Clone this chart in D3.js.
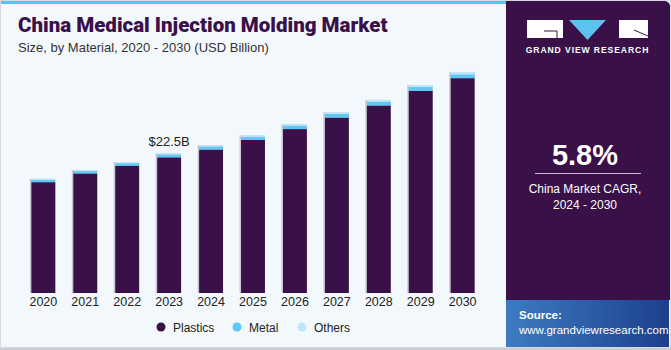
<!DOCTYPE html>
<html>
<head>
<meta charset="utf-8">
<script src="https://cdn.jsdelivr.net/npm/d3@7"></script>
<style>
  html, body { margin: 0; padding: 0; background: #fff; }
  svg { display: block; font-family: "Liberation Sans", Arial, sans-serif; }
</style>
</head>
<body>
<div id="chart"></div>
<script>
// valores (USD Bi)
const years = ['2020', '2021', '2022', '2023', '2024', '2025', '2026', '2027', '2028', '2029', '2030'];
const plastics = [17.85, 19.25, 20.5, 21.85, 23.1, 24.65, 26.4, 28.25, 30.2, 32.55, 34.6];
const metal = [0.35, 0.37, 0.4, 0.45, 0.48, 0.5, 0.55, 0.58, 0.6, 0.62, 0.6];
const others = [0.2, 0.18, 0.2, 0.2, 0.22, 0.25, 0.25, 0.27, 0.3, 0.33, 0.4];
const seriesNames = ['Plastics', 'Metal', 'Others'];
const seriesColors = ['#3a1048', '#5bc8f5', '#bde8fa'];
const highlight = { year: '2023', label: '$22.5B' };

const W = 671, H = 350;
const svg = d3.select('#chart').append('svg').attr('width', W).attr('height', H);

// fundo
svg.append('rect').attr('width', W).attr('height', H).attr('fill', '#f3f8fc');
svg.append('rect').attr('x', 0).attr('y', 0).attr('width', 506).attr('height', 4).attr('fill', '#5bc4ee');

// painel direito
svg.append('path')
  .attr('d', `M506,0 H661 Q671,0 671,10 V300 H506 Z`)
  .attr('fill', '#3a1048');

const grad = svg.append('defs').append('linearGradient').attr('id', 'src').attr('x1', 0).attr('x2', 1).attr('y1', 0).attr('y2', 0);
grad.append('stop').attr('offset', 0).attr('stop-color', '#3d7cc2');
grad.append('stop').attr('offset', 1).attr('stop-color', '#1d3f8c');
svg.append('rect').attr('x', 506).attr('y', 300).attr('width', 163).attr('height', 47).attr('fill', 'url(#src)');
svg.append('rect').attr('x', 0).attr('y', 347).attr('width', W).attr('height', 3).attr('fill', '#c9ccd2');
svg.append('rect').attr('x', 0.5).attr('y', 0.5).attr('width', W - 1).attr('height', 347).attr('fill', 'none').attr('stroke', '#d7dbe0');

// títulos
svg.append('text').attr('x', 18).attr('y', 32)
  .attr('font-family', 'Roboto, sans-serif').attr('font-weight', 900).attr('font-size', 20.5)
  .attr('fill', '#3a1048').text('China Medical Injection Molding Market');
svg.append('text').attr('x', 18).attr('y', 52)
  .attr('font-size', 13).attr('fill', '#333').text('Size, by Material, 2020 - 2030 (USD Billion)');

// escalas
const x = d3.scaleBand().domain(years).range([23, 483]).paddingInner(0.43).paddingOuter(0.2);
const y = d3.scaleLinear().domain([0, 22.5]).range([293, 153.3]);

const rows = years.map((yr, i) => ({ year: yr, Plastics: plastics[i], Metal: metal[i], Others: others[i] }));
const stacked = d3.stack().keys(seriesNames)(rows);

// sombra leve das barras
svg.append('g').selectAll('rect').data(rows).join('rect')
  .attr('x', d => x(d.year) - 1.5)
  .attr('y', d => y(d.Plastics + d.Metal + d.Others))
  .attr('width', x.bandwidth() + 1.5)
  .attr('height', d => y(0) - y(d.Plastics + d.Metal + d.Others))
  .attr('fill', '#c8c6d2');

svg.append('g').selectAll('g').data(stacked).join('g')
  .attr('fill', (d, i) => seriesColors[i])
  .selectAll('rect').data(d => d).join('rect')
  .attr('x', d => x(d.data.year))
  .attr('y', d => y(d[1]))
  .attr('width', x.bandwidth())
  .attr('height', d => y(d[0]) - y(d[1]));

// eixo x
const xAxis = svg.append('g').attr('transform', `translate(0,${y(0)})`)
  .call(d3.axisBottom(x).tickSize(0).tickPadding(4));
xAxis.select('.domain').remove();
xAxis.selectAll('text').attr('font-size', 12.5).attr('fill', '#222')
  .attr('font-family', '"Liberation Sans", Arial, sans-serif');

// rótulo de destaque
const hi = rows.find(d => d.year === highlight.year);
svg.append('text')
  .attr('x', x(highlight.year) + x.bandwidth() / 2)
  .attr('y', y(hi.Plastics + hi.Metal + hi.Others) - 7)
  .attr('text-anchor', 'middle').attr('font-size', 13).attr('fill', '#222')
  .text(highlight.label);

// legenda
const legendX = [161, 237, 302];
const legend = svg.append('g').selectAll('g').data(seriesNames).join('g')
  .attr('transform', (d, i) => `translate(${legendX[i]},327)`);
legend.append('circle').attr('r', 4.5).attr('fill', (d, i) => seriesColors[i]);
legend.append('text').attr('x', 12).attr('y', 4.5).attr('font-size', 12).attr('fill', '#222').text(d => d);

// logo
const logo = svg.append('g');
logo.append('rect').attr('x', 527).attr('y', 20).attr('width', 36).attr('height', 18).attr('fill', '#fff');
logo.append('path').attr('d', 'M544,31 H557 V38').attr('fill', 'none').attr('stroke', '#3a1048').attr('stroke-width', 1);
logo.append('path').attr('d', 'M569,20 H606 L587.5,40 Z').attr('fill', '#5bc4ee');
logo.append('rect').attr('x', 619).attr('y', 20).attr('width', 29).attr('height', 18).attr('fill', '#fff');
logo.append('path').attr('d', 'M634,30 L648,36').attr('stroke', '#3a1048').attr('stroke-width', 1);
logo.append('text').attr('x', 587.5).attr('y', 53).attr('text-anchor', 'middle')
  .attr('font-size', 8.6).attr('font-weight', 'bold').attr('letter-spacing', 0.9).attr('fill', '#fff')
  .text('GRAND VIEW RESEARCH');

// CAGR
svg.append('text').attr('x', 585).attr('y', 165).attr('text-anchor', 'middle')
  .attr('font-size', 29).attr('font-weight', 'bold').attr('fill', '#fff').text('5.8%');
svg.append('line').attr('x1', 535).attr('x2', 641).attr('y1', 173.5).attr('y2', 173.5)
  .attr('stroke', '#c9b9d3').attr('stroke-width', 1);
svg.append('text').attr('x', 585).attr('y', 193).attr('text-anchor', 'middle')
  .attr('font-size', 12).attr('fill', '#fff').text('China Market CAGR,');
svg.append('text').attr('x', 585).attr('y', 209).attr('text-anchor', 'middle')
  .attr('font-size', 12).attr('fill', '#fff').text('2024 - 2030');

// fonte
svg.append('text').attr('x', 519).attr('y', 319).attr('font-size', 11.5).attr('font-weight', 'bold')
  .attr('fill', '#fff').text('Source:');
svg.append('text').attr('x', 519).attr('y', 334).attr('font-size', 11.5)
  .attr('fill', '#fff').text('www.grandviewresearch.com');
</script>
</body>
</html>
